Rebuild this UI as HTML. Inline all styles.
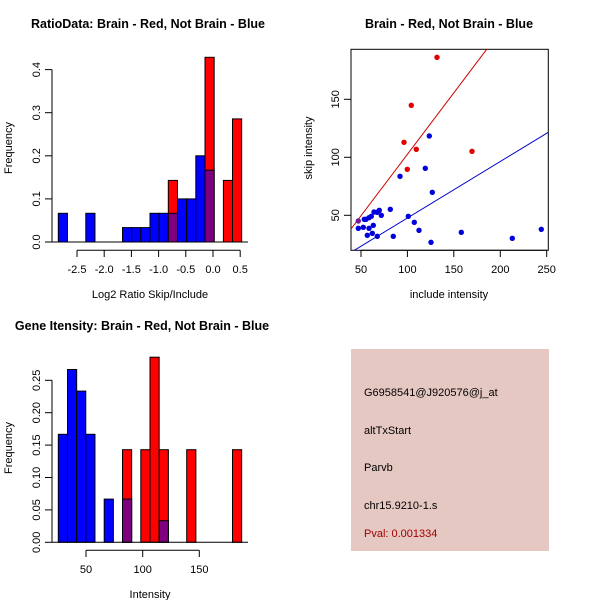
<!DOCTYPE html>
<html><head><style>body{margin:0;background:#fff}svg{display:block}text{font-family:"Liberation Sans",sans-serif;font-size:11px;fill:#000}.t{font-weight:bold;font-size:12.5px}</style></head><body>
<svg width="600" height="600" viewBox="0 0 600 600" xmlns="http://www.w3.org/2000/svg">
<rect width="600" height="600" fill="#fff"/>
<!-- Panel 1 -->
<text class="t" x="148" y="28" text-anchor="middle">RatioData: Brain - Red, Not Brain - Blue</text>
<g stroke="#000" stroke-width="1">
<rect x="58.3" y="213.3" width="9.17" height="28.7" fill="#0000ff"/>
<rect x="85.8" y="213.3" width="9.17" height="28.7" fill="#0000ff"/>
<rect x="122.5" y="227.6" width="9.17" height="14.4" fill="#0000ff"/>
<rect x="131.7" y="227.6" width="9.17" height="14.4" fill="#0000ff"/>
<rect x="140.8" y="227.6" width="9.17" height="14.4" fill="#0000ff"/>
<rect x="150.0" y="213.3" width="9.17" height="28.7" fill="#0000ff"/>
<rect x="159.2" y="213.3" width="9.17" height="28.7" fill="#0000ff"/>
<rect x="168.3" y="180.4" width="9.17" height="61.6" fill="#ff0000"/>
<rect x="168.3" y="213.3" width="9.17" height="28.7" fill="#7f007f"/>
<rect x="177.5" y="198.9" width="9.17" height="43.1" fill="#0000ff"/>
<rect x="186.7" y="198.9" width="9.17" height="43.1" fill="#0000ff"/>
<rect x="195.8" y="155.8" width="9.17" height="86.2" fill="#0000ff"/>
<rect x="205.0" y="57.3" width="9.17" height="184.7" fill="#ff0000"/>
<rect x="205.0" y="170.2" width="9.17" height="71.8" fill="#7f007f"/>
<rect x="223.4" y="180.4" width="9.17" height="61.6" fill="#ff0000"/>
<rect x="232.5" y="118.9" width="9.17" height="123.1" fill="#ff0000"/>
<line x1="52" y1="242" x2="248" y2="242"/>
<line x1="52" y1="242" x2="52" y2="69.6"/>
<line x1="45" y1="242" x2="52" y2="242"/><line x1="45" y1="198.9" x2="52" y2="198.9"/><line x1="45" y1="155.8" x2="52" y2="155.8"/><line x1="45" y1="112.7" x2="52" y2="112.7"/><line x1="45" y1="69.6" x2="52" y2="69.6"/>
<line x1="77" y1="250.3" x2="240.2" y2="250.3"/>
<line x1="77" y1="250.3" x2="77" y2="257"/><line x1="104.2" y1="250.3" x2="104.2" y2="257"/><line x1="131.4" y1="250.3" x2="131.4" y2="257"/><line x1="158.6" y1="250.3" x2="158.6" y2="257"/><line x1="185.8" y1="250.3" x2="185.8" y2="257"/><line x1="213" y1="250.3" x2="213" y2="257"/><line x1="240.2" y1="250.3" x2="240.2" y2="257"/>
</g>
<g text-anchor="middle">
<text transform="translate(40,242) rotate(-90)">0.0</text>
<text transform="translate(40,198.9) rotate(-90)">0.1</text>
<text transform="translate(40,155.8) rotate(-90)">0.2</text>
<text transform="translate(40,112.7) rotate(-90)">0.3</text>
<text transform="translate(40,69.6) rotate(-90)">0.4</text>
<text x="77" y="273">-2.5</text><text x="104.2" y="273">-2.0</text><text x="131.4" y="273">-1.5</text><text x="158.6" y="273">-1.0</text><text x="185.8" y="273">-0.5</text><text x="213" y="273">0.0</text><text x="240.2" y="273">0.5</text>
<text x="150" y="298">Log2 Ratio Skip/Include</text>
<text transform="translate(12,148) rotate(-90)">Frequency</text>
</g>
<!-- Panel 2 -->
<text class="t" x="449" y="28" text-anchor="middle">Brain - Red, Not Brain - Blue</text>
<rect x="351" y="49.3" width="197.3" height="201" fill="none" stroke="#000"/>
<g stroke="#000">
<line x1="361" y1="250.3" x2="546.7" y2="250.3"/>
<line x1="361" y1="250.3" x2="361" y2="257"/><line x1="407.4" y1="250.3" x2="407.4" y2="257"/><line x1="453.8" y1="250.3" x2="453.8" y2="257"/><line x1="500.3" y1="250.3" x2="500.3" y2="257"/><line x1="546.7" y1="250.3" x2="546.7" y2="257"/>
<line x1="351" y1="215.3" x2="351" y2="99.3"/>
<line x1="344" y1="215.3" x2="351" y2="215.3"/><line x1="344" y1="157.3" x2="351" y2="157.3"/><line x1="344" y1="99.3" x2="351" y2="99.3"/>
</g>
<g text-anchor="middle">
<text x="361" y="273">50</text><text x="407.4" y="273">100</text><text x="453.8" y="273">150</text><text x="500.3" y="273">200</text><text x="546.7" y="273">250</text>
<text transform="translate(339,215.3) rotate(-90)">50</text>
<text transform="translate(339,157.3) rotate(-90)">100</text>
<text transform="translate(339,99.3) rotate(-90)">150</text>
<text x="449" y="298">include intensity</text>
<text transform="translate(312,148) rotate(-90)">skip intensity</text>
</g>
<line x1="351" y1="229" x2="486.7" y2="49.3" stroke="#cc0000"/>
<line x1="354.3" y1="250.3" x2="548.3" y2="132.3" stroke="#0000cc"/>
<g fill="#e00000">
<circle cx="437" cy="57.3" r="2.7"/><circle cx="411.3" cy="105.3" r="2.7"/><circle cx="404" cy="142.3" r="2.7"/><circle cx="416.3" cy="149.3" r="2.7"/><circle cx="407.3" cy="169.3" r="2.7"/><circle cx="472" cy="151.3" r="2.7"/>
</g>
<g fill="#0000dd">
<circle cx="429.3" cy="136" r="2.7"/><circle cx="425.3" cy="168.3" r="2.7"/><circle cx="400" cy="176.3" r="2.7"/><circle cx="432.3" cy="192.3" r="2.7"/><circle cx="390.3" cy="209.3" r="2.7"/><circle cx="408.3" cy="216.3" r="2.7"/><circle cx="414.3" cy="222.3" r="2.7"/><circle cx="419" cy="230.3" r="2.7"/><circle cx="379.3" cy="210.3" r="2.7"/><circle cx="381.3" cy="215.3" r="2.7"/><circle cx="377" cy="212.3" r="2.7"/><circle cx="374" cy="212" r="2.7"/><circle cx="371.3" cy="216.3" r="2.7"/><circle cx="369" cy="217.7" r="2.7"/><circle cx="366" cy="219.3" r="2.7"/><circle cx="364.3" cy="219.3" r="2.7"/><circle cx="363.3" cy="227.3" r="2.7"/><circle cx="358.3" cy="228.3" r="2.7"/><circle cx="369" cy="228.3" r="2.7"/><circle cx="373.3" cy="225.3" r="2.7"/><circle cx="372.3" cy="233.3" r="2.7"/><circle cx="367.3" cy="235.3" r="2.7"/><circle cx="377.3" cy="236.3" r="2.7"/><circle cx="393.3" cy="236.3" r="2.7"/><circle cx="431" cy="242.3" r="2.7"/><circle cx="461.3" cy="232.3" r="2.7"/><circle cx="512.3" cy="238.3" r="2.7"/><circle cx="541.3" cy="229.3" r="2.7"/>
</g>
<circle cx="358.3" cy="221" r="2.7" fill="#6a1a9a"/>
<!-- Panel 3 -->
<text class="t" x="142" y="330" text-anchor="middle">Gene Itensity: Brain - Red, Not Brain - Blue</text>
<g stroke="#000" stroke-width="1">
<rect x="58.3" y="434.3" width="9.17" height="108" fill="#0000ff"/>
<rect x="67.5" y="369.5" width="9.17" height="172.8" fill="#0000ff"/>
<rect x="76.6" y="391.1" width="9.17" height="151.2" fill="#0000ff"/>
<rect x="85.8" y="434.3" width="9.17" height="108" fill="#0000ff"/>
<rect x="104.2" y="499.1" width="9.17" height="43.2" fill="#0000ff"/>
<rect x="122.5" y="449.7" width="9.17" height="92.6" fill="#ff0000"/>
<rect x="122.5" y="499.1" width="9.17" height="43.2" fill="#7f007f"/>
<rect x="140.8" y="449.7" width="9.17" height="92.6" fill="#ff0000"/>
<rect x="150.0" y="357.2" width="9.17" height="185.1" fill="#ff0000"/>
<rect x="159.2" y="449.7" width="9.17" height="92.6" fill="#ff0000"/>
<rect x="159.2" y="520.7" width="9.17" height="21.6" fill="#7f007f"/>
<rect x="186.7" y="449.7" width="9.17" height="92.6" fill="#ff0000"/>
<rect x="232.5" y="449.7" width="9.17" height="92.6" fill="#ff0000"/>
<line x1="52" y1="542.3" x2="248" y2="542.3"/>
<line x1="52" y1="542.3" x2="52" y2="380.3"/>
<line x1="45" y1="542.3" x2="52" y2="542.3"/><line x1="45" y1="509.9" x2="52" y2="509.9"/><line x1="45" y1="477.5" x2="52" y2="477.5"/><line x1="45" y1="445.1" x2="52" y2="445.1"/><line x1="45" y1="412.7" x2="52" y2="412.7"/><line x1="45" y1="380.3" x2="52" y2="380.3"/>
<line x1="86" y1="550.3" x2="199.3" y2="550.3"/>
<line x1="86" y1="550.3" x2="86" y2="557"/><line x1="142.7" y1="550.3" x2="142.7" y2="557"/><line x1="199.3" y1="550.3" x2="199.3" y2="557"/>
</g>
<g text-anchor="middle">
<text transform="translate(40,542.3) rotate(-90)">0.00</text>
<text transform="translate(40,509.9) rotate(-90)">0.05</text>
<text transform="translate(40,477.5) rotate(-90)">0.10</text>
<text transform="translate(40,445.1) rotate(-90)">0.15</text>
<text transform="translate(40,412.7) rotate(-90)">0.20</text>
<text transform="translate(40,380.3) rotate(-90)">0.25</text>
<text x="86" y="573">50</text><text x="142.7" y="573">100</text><text x="199.3" y="573">150</text>
<text x="150" y="598">Intensity</text>
<text transform="translate(12,448) rotate(-90)">Frequency</text>
</g>
<!-- Panel 4 -->
<rect x="351" y="349" width="198" height="202" fill="#e6c8c2"/>
<text x="364" y="396">G6958541@J920576@j_at</text>
<text x="364" y="434">altTxStart</text>
<text x="364" y="471">Parvb</text>
<text x="364" y="509">chr15.9210-1.s</text>
<text x="364" y="537" style="fill:#a00000">Pval: 0.001334</text>
</svg>
</body></html>
